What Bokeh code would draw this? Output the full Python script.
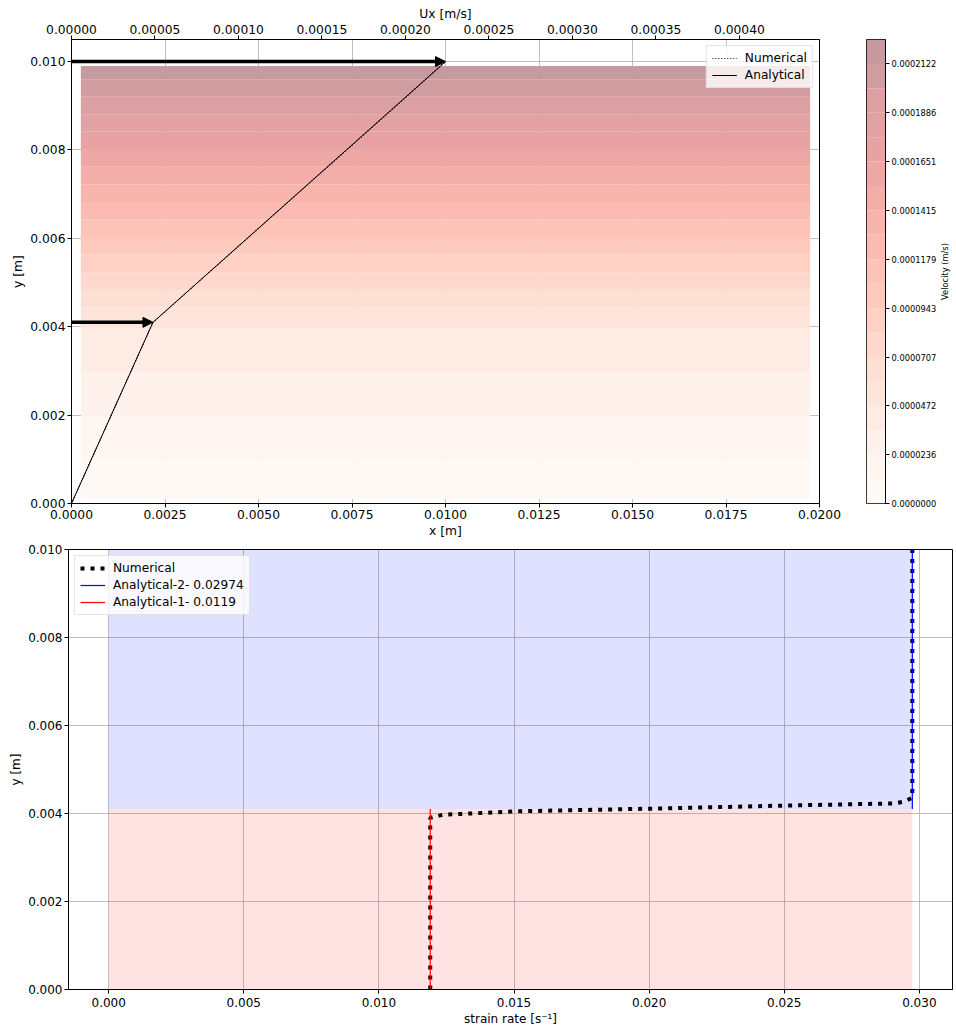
import math
import numpy as np
from bokeh.plotting import figure
from bokeh.models import (Range1d, LinearAxis, FixedTicker, PrintfTickFormatter, Arrow,
                          NormalHead, ColumnDataSource, Legend, LegendItem)
from bokeh.core.properties import value
from bokeh.layouts import column, row
from bokeh.embed import file_html
from bokeh.resources import INLINE

FONT = "DejaVu Sans"

# ---------------- data ----------------
interface_y = 0.0041
domain_top = 0.010
rate_lower = 0.0119
rate_upper = 0.02974
u_max = 0.000224
ux_axis_max = 0.000448

# analytical velocity profile (Ux vs y)
an_y = [0.0, 0.0041, 0.010]
an_u = [0.0, 0.0000488, 0.000224]

# numerical velocity profile
num_y = [0.0, 0.001, 0.002, 0.003, 0.004, 0.0041, 0.005, 0.006, 0.007, 0.008, 0.009, 0.010]
num_u = [0.0, 0.0000119, 0.0000238, 0.0000357, 0.0000476, 0.0000488,
         0.0000756, 0.0001053, 0.0001350, 0.0001648, 0.0001945, 0.000224]

# boundary arrows
arrow_y = [0.010, 0.0041]
arrow_u0 = [0.0, 0.0]
arrow_u1 = [0.000224, 0.0000488]

# mesh cell-centre extent used by the contour field
mesh_x = [0.00025, 0.01975]
mesh_y = [0.0001, 0.0099]

n_bands = 19
cbar_ticks = [0.0, 0.0000236, 0.0000472, 0.0000707, 0.0000943, 0.0001179,
              0.0001415, 0.0001651, 0.0001886, 0.0002122]
cbar_label = "Velocity (m/s)"

top_x_ticks = [0.0, 0.0025, 0.005, 0.0075, 0.01, 0.0125, 0.015, 0.0175, 0.02]
top_u_ticks = [0.0, 0.00005, 0.0001, 0.00015, 0.0002, 0.00025, 0.0003, 0.00035, 0.0004]
y_ticks = [0.0, 0.002, 0.004, 0.006, 0.008, 0.010]

# numerical strain rate profile
num_rate_y = [0.0, 0.0039, 0.00397, 0.00405, 0.00411, 0.00418, 0.00423, 0.00427, 0.00436, 0.0100]
num_rate = [0.0119, 0.0119, 0.01235, 0.0151, 0.0201, 0.0250, 0.0291, 0.02944, 0.02974, 0.02974]
strain_ticks = [0.0, 0.005, 0.010, 0.015, 0.020, 0.025, 0.030]

# ---------------- colours ----------------
REDS = ["#fff5f0", "#fee0d2", "#fcbba1", "#fc9272", "#fb6a4a", "#ef3b2c", "#cb181d", "#a50f15", "#67000d"]


def hex2rgb(h):
    return [int(h[i:i + 2], 16) for i in (1, 3, 5)]


def reds(t, alpha=0.4):
    pos = t * 8
    i = min(int(pos), 7)
    f = pos - i
    a, b = hex2rgb(REDS[i]), hex2rgb(REDS[i + 1])
    c = [a[k] + (b[k] - a[k]) * f for k in range(3)]
    c = [alpha * v + (1 - alpha) * 255 for v in c]
    return "#%02x%02x%02x" % tuple(int(round(v)) for v in c)


levels = np.linspace(0.0, u_max, n_bands + 1)
band_colors = [reds((i + 0.5) / n_bands) for i in range(n_bands)]
level_y = np.interp(levels, an_u, an_y)
band_bot = np.clip(level_y[:-1], mesh_y[0], mesh_y[1])
band_top = np.clip(level_y[1:], mesh_y[0], mesh_y[1])


def style_axis(ax, size="12.3px"):
    ax.major_label_text_font = FONT
    ax.major_label_text_font_size = size
    ax.major_label_text_color = "black"
    ax.axis_label_text_font = FONT
    ax.axis_label_text_font_size = size
    ax.axis_label_text_font_style = "normal"
    ax.axis_label_text_color = "black"
    ax.major_tick_in = 0
    ax.major_tick_out = 4
    ax.minor_tick_line_color = None
    ax.major_label_standoff = 2
    ax.axis_label_standoff = 2
    ax.axis_line_color = "black"
    ax.major_tick_line_color = "black"


# ---------------- top figure ----------------
p1 = figure(width=861, height=541, x_range=Range1d(0, 0.02), y_range=Range1d(0, 0.0105),
            output_backend="svg", toolbar_location=None,
            min_border_left=71, min_border_right=42, min_border_top=39, min_border_bottom=38)
p1.extra_x_ranges = {"ux": Range1d(0, ux_axis_max)}
p1.outline_line_color = "black"
p1.outline_line_alpha = 1

p1.quad(left=mesh_x[0], right=mesh_x[1], bottom=band_bot, top=band_top,
        fill_color=band_colors, line_color=None)

r_an = p1.line(an_u, an_y, x_range_name="ux", line_color="black", line_width=1)
r_num = p1.line(num_u, num_y, x_range_name="ux", line_color="black", line_width=1.2,
                line_dash="1 2")

asrc = ColumnDataSource(dict(x0=arrow_u0, x1=arrow_u1, y=arrow_y))
p1.add_layout(Arrow(end=NormalHead(size=10, fill_color="black", line_color="black"),
                    x_start="x0", y_start="y", x_end="x1", y_end="y", source=asrc,
                    x_range_name="ux", line_width=3.5, line_color="black"))

ax_bottom = p1.below[0]
ax_left = p1.left[0]
ax_bottom.ticker = FixedTicker(ticks=top_x_ticks)
ax_bottom.formatter = PrintfTickFormatter(format="%.4f")
ax_bottom.axis_label = "x [m]"
ax_left.ticker = FixedTicker(ticks=y_ticks)
ax_left.formatter = PrintfTickFormatter(format="%.3f")
ax_left.axis_label = "y [m]"
ax_top = LinearAxis(x_range_name="ux", axis_label="Ux [m/s]",
                    ticker=FixedTicker(ticks=top_u_ticks),
                    formatter=PrintfTickFormatter(format="%.5f"))
p1.add_layout(ax_top, "above")
for ax in [ax_bottom, ax_left, ax_top]:
    style_axis(ax)
ax_top.axis_label_standoff = 1

p1.xgrid.grid_line_color = "#b0b0b0"
p1.ygrid.grid_line_color = "#b0b0b0"
p1.xgrid.grid_line_width = 0.8
p1.ygrid.grid_line_width = 0.8

leg1 = Legend(items=[LegendItem(label="Numerical", renderers=[r_num]),
                     LegendItem(label="Analytical", renderers=[r_an])],
              location="top_right")
p1.add_layout(leg1)

# ---------------- colour bar figure ----------------
cb = figure(width=78, height=541, x_range=Range1d(0, 1), y_range=Range1d(0, u_max),
            output_backend="svg", toolbar_location=None, y_axis_location="right",
            x_axis_location=None,
            min_border_left=5, min_border_right=50, min_border_top=39, min_border_bottom=38)
cb.quad(left=0, right=1, bottom=levels[:-1], top=levels[1:], fill_color=band_colors, line_color=None)
cb.grid.visible = False
cb.outline_line_color = "black"
cb.outline_line_alpha = 1
cb.yaxis.ticker = FixedTicker(ticks=cbar_ticks)
cb.yaxis.formatter = PrintfTickFormatter(format="%.7f")
style_axis(cb.yaxis[0], size="8.3px")

# colour bar label (reads bottom-to-top)
lab = figure(width=17, height=541, x_range=Range1d(0, 1), y_range=Range1d(0, u_max),
             output_backend="svg", toolbar_location=None, x_axis_location=None,
             y_axis_location=None, min_border_left=0, min_border_right=0,
             min_border_top=39, min_border_bottom=38)
lab.grid.visible = False
lab.outline_line_color = None
lab.text(x=[0.35], y=[u_max / 2], text=[cbar_label], angle=math.pi / 2,
         text_align="center", text_baseline="middle", text_font=value(FONT),
         text_font_size="8.3px", text_color="black")

# ---------------- bottom figure ----------------
p2 = figure(width=956, height=495,
            x_range=Range1d(-0.05 * rate_upper, 1.05 * rate_upper), y_range=Range1d(0, domain_top),
            output_backend="svg", toolbar_location=None,
            min_border_left=68, min_border_right=4, min_border_top=8, min_border_bottom=47)
p2.outline_line_color = "black"
p2.outline_line_alpha = 1

p2.quad(left=0, right=rate_upper, bottom=interface_y, top=domain_top,
        fill_color="blue", fill_alpha=0.12, line_color=None)
p2.quad(left=0, right=rate_upper, bottom=0, top=interface_y,
        fill_color="red", fill_alpha=0.11, line_color=None)

r2_num = p2.line(num_rate, num_rate_y, line_color="black", line_width=4, line_dash="4 6")
r2_a2 = p2.line([rate_upper, rate_upper], [interface_y, domain_top], line_color="blue", line_width=1.2)
r2_a1 = p2.line([rate_lower, rate_lower], [0, interface_y], line_color="red", line_width=1.2)

p2.xaxis.ticker = FixedTicker(ticks=strain_ticks)
p2.xaxis.formatter = PrintfTickFormatter(format="%.3f")
p2.xaxis.axis_label = "strain rate [s⁻¹]"
p2.yaxis.ticker = FixedTicker(ticks=y_ticks)
p2.yaxis.formatter = PrintfTickFormatter(format="%.3f")
p2.yaxis.axis_label = "y [m]"
style_axis(p2.xaxis[0], size="12px")
style_axis(p2.yaxis[0], size="12px")
p2.xaxis[0].major_label_standoff = 4
p2.xgrid.grid_line_color = "#b0b0b0"
p2.ygrid.grid_line_color = "#b0b0b0"
p2.xgrid.grid_line_width = 0.8
p2.ygrid.grid_line_width = 0.8

leg2 = Legend(items=[LegendItem(label="Numerical", renderers=[r2_num]),
                     LegendItem(label="Analytical-2- 0.02974", renderers=[r2_a2]),
                     LegendItem(label="Analytical-1- 0.0119", renderers=[r2_a1])],
              location="top_left")
p2.add_layout(leg2)

for lg in (leg1, leg2):
    lg.label_text_font = FONT
    lg.label_text_font_size = "12.2px"
    lg.label_text_color = "black"
    lg.background_fill_alpha = 0.8
    lg.border_line_color = "#cccccc"
    lg.glyph_width = 25
    lg.glyph_height = 14
    lg.label_height = 14
    lg.spacing = 3
    lg.padding = 5
    lg.margin = 6
    lg.label_standoff = 8

layout = column(row(p1, cb, lab), p2)
open("out.html", "w").write(file_html(layout, INLINE))
